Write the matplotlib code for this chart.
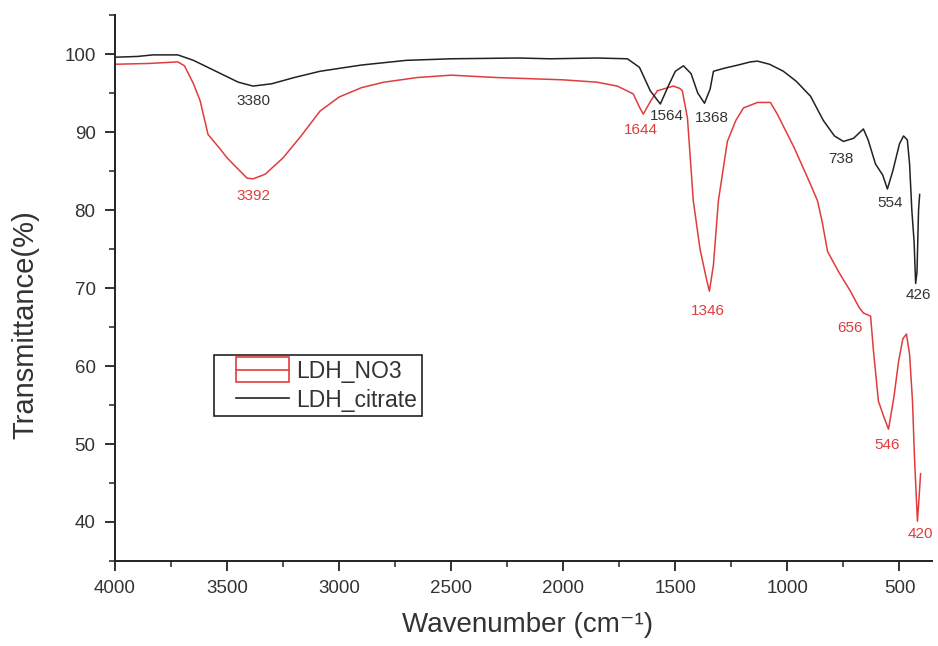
import matplotlib.pyplot as plt
from matplotlib.lines import Line2D
from matplotlib.patches import Rectangle
from matplotlib.legend_handler import HandlerBase
from matplotlib.ticker import MultipleLocator

plt.rcParams["font.family"] = ["Liberation Sans", "DejaVu Sans"]

# Spectra (wavenumber cm-1, transmittance %)
citrate_wn = [4000, 3900, 3830, 3720, 3650, 3550, 3450, 3384, 3300, 3200, 3085,
              2900, 2700, 2500, 2200, 2058, 1850, 1714, 1660, 1612, 1567, 1530,
              1500, 1464, 1430, 1400, 1370, 1345, 1330, 1280, 1220, 1165, 1134,
              1080, 1018, 960, 897, 840, 790, 750, 705, 661, 640, 607, 575, 554,
              530, 500, 482, 465, 455, 445, 435, 428, 422, 415, 410]
citrate_t = [99.6, 99.7, 99.9, 99.9, 99.2, 97.8, 96.4, 95.9, 96.2, 97.0, 97.8,
             98.6, 99.2, 99.4, 99.5, 99.4, 99.5, 99.4, 98.3, 95.3, 93.6, 96.0,
             97.8, 98.5, 97.5, 95.0, 93.7, 95.5, 97.8, 98.2, 98.6, 99.0, 99.1,
             98.7, 97.8, 96.5, 94.6, 91.5, 89.5, 88.8, 89.2, 90.4, 89.0, 85.9,
             84.5, 82.7, 85.0, 88.5, 89.5, 89.0, 85.9, 80.0, 76.0, 70.6, 72.0,
             80.0, 82.0]

no3_wn = [4000, 3850, 3720, 3690, 3650, 3620, 3585, 3530, 3500, 3473, 3411, 3384,
          3330, 3250, 3170, 3085, 3000, 2900, 2800, 2650, 2500, 2300, 2100, 2000,
          1850, 1759, 1688, 1660, 1643, 1610, 1580, 1509, 1480, 1469, 1446, 1420,
          1390, 1360, 1348, 1330, 1308, 1268, 1230, 1196, 1134, 1076, 1045, 970,
          897, 866, 845, 821, 770, 719, 680, 661, 629, 616, 594, 570, 549, 525,
          504, 485, 469, 455, 442, 433, 420, 413, 406]
no3_t = [98.7, 98.8, 99.0, 98.5, 96.2, 94.0, 89.7, 87.8, 86.7, 85.9, 84.1, 84.0,
         84.6, 86.7, 89.5, 92.7, 94.5, 95.7, 96.4, 97.0, 97.3, 97.0, 96.8, 96.7,
         96.4, 95.9, 94.9, 93.2, 92.3, 94.0, 95.3, 95.9, 95.6, 95.3, 91.8, 81.2,
         75.0, 71.0, 69.6, 73.0, 81.2, 88.8, 91.5, 93.1, 93.8, 93.8, 92.3, 88.0,
         83.3, 81.2, 78.5, 74.7, 72.0, 69.6, 67.5, 66.8, 66.4, 61.9, 55.5, 53.5,
         51.9, 56.0, 60.6, 63.5, 64.1, 61.5, 55.5, 48.2, 40.1, 43.0, 46.2]

# Peak labels: (text, wavenumber, transmittance)
citrate_peaks = [("3380", 3384, 94.0), ("1564", 1536, 92.1), ("1368", 1335, 91.8),
                 ("738", 763, 86.5), ("554", 540, 80.9), ("426", 415, 69.1)]
no3_peaks = [("3392", 3384, 81.8), ("1644", 1656, 90.3), ("1346", 1353, 67.1),
             ("656", 719, 64.9), ("546", 554, 49.9), ("420", 406, 38.5)]

red = "#e03c3c"
black = "#222222"
grey = "#333333"


# Legend handles, pushed right a bit inside the handle box
class ShiftedHandler(HandlerBase):
    def __init__(self, boxed):
        super().__init__()
        self.boxed = boxed

    def create_artists(self, legend, orig_handle, xdescent, ydescent,
                       width, height, fontsize, trans):
        x0 = -xdescent + 0.75 * fontsize
        x1 = -xdescent + width
        ymid = -ydescent + height / 2
        col = orig_handle.get_color()
        arts = [Line2D([x0, x1], [ymid, ymid], color=col, linewidth=1.2,
                       transform=trans)]
        if self.boxed:
            h = 1.1 * fontsize
            arts.append(Rectangle((x0, ymid - h / 2), x1 - x0, h,
                                  facecolor="none", edgecolor=col,
                                  linewidth=1.2, transform=trans))
        return arts


fig = plt.figure(figsize=(9.38, 6.46), dpi=100)
ax = fig.add_axes([0.1226, 0.1316, 0.871, 0.845])

(l_no3,) = ax.plot(no3_wn, no3_t, color=red, linewidth=1.1, label="LDH_NO3")
(l_cit,) = ax.plot(citrate_wn, citrate_t, color=black, linewidth=1.1,
                   label="LDH_citrate")

for txt, x, y in citrate_peaks:
    ax.text(x, y, txt, color=grey, fontsize=11, ha="center", va="center")
for txt, x, y in no3_peaks:
    ax.text(x, y, txt, color=red, fontsize=11, ha="center", va="center")

ax.set_xlim(4000, 355)
ax.set_ylim(35, 105)
ax.xaxis.set_major_locator(MultipleLocator(500))
ax.xaxis.set_minor_locator(MultipleLocator(250))
ax.yaxis.set_minor_locator(MultipleLocator(5))
ax.set_yticks([40, 50, 60, 70, 80, 90, 100])

for side in ["top", "right"]:
    ax.spines[side].set_visible(False)
for side in ["left", "bottom"]:
    ax.spines[side].set_linewidth(1.4)
    ax.spines[side].set_color("#222222")

ax.tick_params(which="major", direction="out", length=7, width=1.3,
               labelsize=13.5, labelcolor=grey, color="#222222")
ax.tick_params(which="minor", direction="out", length=4, width=1.1,
               color="#222222")
ax.tick_params(axis="x", pad=7)
ax.tick_params(axis="y", pad=7)

fig.text(528 / 938, 1 - 625 / 646, "Wavenumber (cm⁻¹)", fontsize=20,
         color=grey, ha="center", va="center")
fig.text(25 / 938, 1 - 325 / 646, "Transmittance(%)", fontsize=21,
         color=grey, ha="center", va="center", rotation=90)

leg = ax.legend([l_no3, l_cit], ["LDH_NO3", "LDH_citrate"],
                handler_map={l_no3: ShiftedHandler(True),
                             l_cit: ShiftedHandler(False)},
                loc="upper left", bbox_to_anchor=(0.121, 0.377),
                fontsize=16.5, frameon=True, fancybox=False, framealpha=1,
                handlelength=3.1, handletextpad=0.3, borderpad=0.2,
                labelspacing=0.25, borderaxespad=0)
leg.get_frame().set_edgecolor("#222222")
leg.get_frame().set_linewidth(1.2)
for t in leg.get_texts():
    t.set_color(grey)

fig.savefig("out.png", dpi=100)
